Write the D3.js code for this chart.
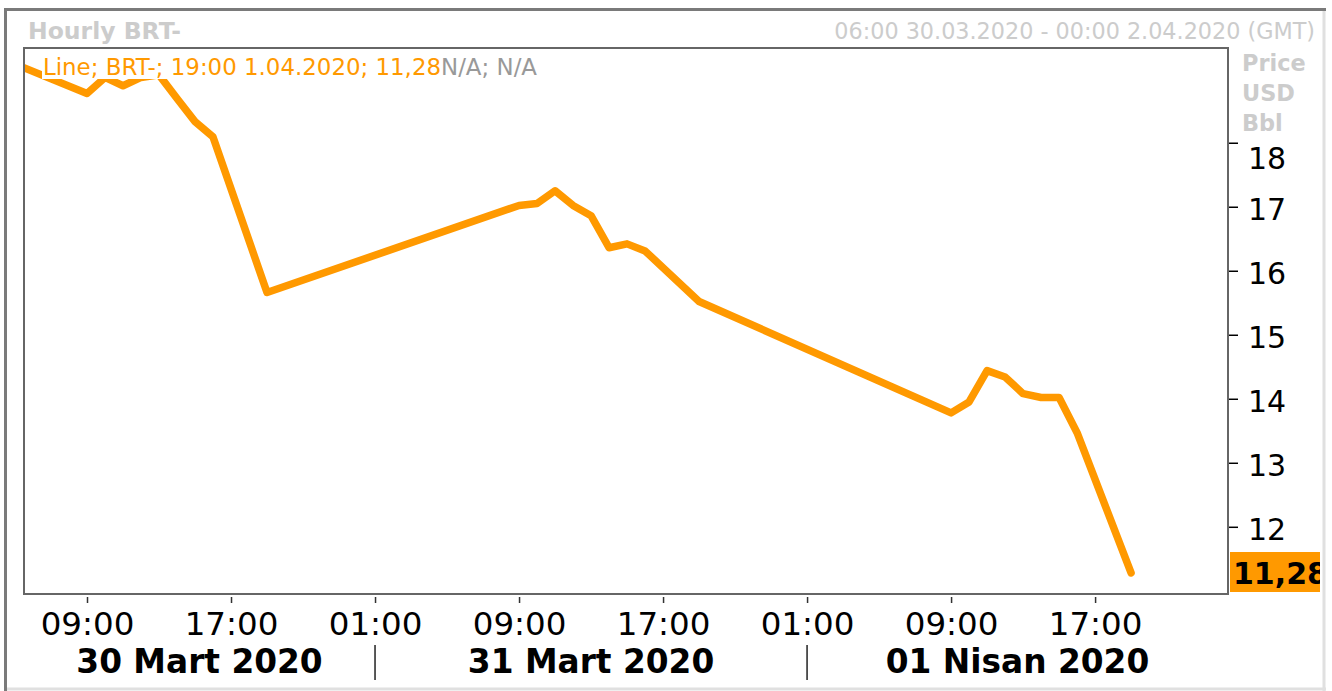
<!DOCTYPE html>
<html>
<head>
<meta charset="utf-8">
<script src="https://cdn.jsdelivr.net/npm/d3@7"></script>
<style>
  body { margin: 0; background: #fff; }
  svg { display: block; font-family: "DejaVu Sans", Verdana, sans-serif; }
</style>
</head>
<body>
<svg id="chart" width="1332" height="691"></svg>
<script>
// hourly BRT- closes (gaps overnight are simply joined by the line)
var times = [
  "2020-03-30 05:00", "2020-03-30 09:00", "2020-03-30 10:00", "2020-03-30 11:00",
  "2020-03-30 12:00", "2020-03-30 13:00", "2020-03-30 14:00", "2020-03-30 15:00",
  "2020-03-30 16:00", "2020-03-30 19:00",
  "2020-03-31 09:00", "2020-03-31 10:00", "2020-03-31 11:00", "2020-03-31 12:00",
  "2020-03-31 13:00", "2020-03-31 14:00", "2020-03-31 15:00", "2020-03-31 16:00",
  "2020-03-31 19:00",
  "2020-04-01 09:00", "2020-04-01 10:00", "2020-04-01 11:00", "2020-04-01 12:00",
  "2020-04-01 13:00", "2020-04-01 14:00", "2020-04-01 15:00", "2020-04-01 16:00",
  "2020-04-01 19:00"
];
var prices = [
  19.23, 18.77, 19.02, 18.89, 19.02, 19.06, 18.69, 18.33, 18.09, 15.66,
  17.02, 17.05, 17.25, 17.02, 16.86, 16.36, 16.42, 16.31, 15.52,
  13.78, 13.95, 14.44, 14.34, 14.08, 14.02, 14.02, 13.47, 11.28
];
var hourTicks = [
  "2020-03-30 09:00", "2020-03-30 17:00", "2020-03-31 01:00", "2020-03-31 09:00",
  "2020-03-31 17:00", "2020-04-01 01:00", "2020-04-01 09:00", "2020-04-01 17:00"
];
var dayBreaks = ["2020-03-31 01:00", "2020-04-01 01:00"];
var dayLabels = ["30 Mart 2020", "31 Mart 2020", "01 Nisan 2020"];
var priceTicks = [12, 13, 14, 15, 16, 17, 18];
var unitLabels = ["Price", "USD", "Bbl"];
var lastValue = "11,28";

var parse = d3.utcParse("%Y-%m-%d %H:%M");
var data = times.map(function(t, i) { return { t: parse(t), v: prices[i] }; });

var svg = d3.select("#chart");
var pLeft = 24, pRight = 1228, pTop = 48, pBottom = 594;

var x = d3.scaleUtc()
  .domain([parse("2020-03-30 05:30"), parse("2020-04-02 00:23")])
  .range([pLeft, pRight]);
var y = d3.scaleLinear()
  .domain([10.95, 19.48])
  .range([pBottom, pTop]);

// outer frame (sunken look)
svg.append("line").attr("x1", 4).attr("x2", 1326).attr("y1", 9.5).attr("y2", 9.5)
  .attr("stroke", "#7a7a7a").attr("stroke-width", 3);
svg.append("line").attr("x1", 5.5).attr("x2", 5.5).attr("y1", 8).attr("y2", 691)
  .attr("stroke", "#7a7a7a").attr("stroke-width", 3);
svg.append("line").attr("x1", 1324).attr("x2", 1324).attr("y1", 11).attr("y2", 691)
  .attr("stroke", "#e0e0e0").attr("stroke-width", 3);
svg.append("line").attr("x1", 7).attr("x2", 1326).attr("y1", 689).attr("y2", 689)
  .attr("stroke", "#e0e0e0").attr("stroke-width", 3);

// header
svg.append("text").attr("x", 28).attr("y", 39)
  .attr("font-size", 23.5).attr("font-weight", "bold").attr("fill", "#cccccc")
  .text("Hourly BRT-");
svg.append("text").attr("x", 1315).attr("y", 39).attr("text-anchor", "end")
  .attr("font-size", 22.3).attr("fill", "#cccccc")
  .text("06:00 30.03.2020 - 00:00 2.04.2020 (GMT)");

svg.selectAll(".unit").data(unitLabels).enter().append("text")
  .attr("class", "unit")
  .attr("x", 1242).attr("y", function(d, i) { return 71 + i * 30; })
  .attr("font-size", 22.4).attr("font-weight", "bold").attr("fill", "#cccccc")
  .text(function(d) { return d; });

// plot area
svg.append("clipPath").attr("id", "plotclip")
  .append("rect").attr("x", pLeft).attr("y", pTop)
  .attr("width", pRight - pLeft).attr("height", pBottom - pTop);

var line = d3.line()
  .x(function(d) { return x(d.t); })
  .y(function(d) { return y(d.v); });

svg.append("path").datum(data)
  .attr("clip-path", "url(#plotclip)")
  .attr("fill", "none")
  .attr("stroke", "#ff9900")
  .attr("stroke-width", 7.5)
  .attr("stroke-linejoin", "round")
  .attr("stroke-linecap", "round")
  .attr("d", line);

// legend
var legend = svg.append("g");
var legBg = legend.append("rect").attr("fill", "#fff");
var legText = legend.append("text").attr("x", 43).attr("y", 75).attr("font-size", 22.9);
legText.append("tspan").attr("fill", "#ff9900").text("Line; BRT-; 19:00 1.04.2020; " + lastValue);
legText.append("tspan").attr("fill", "#999999").text("N/A; N/A");
var bb = legText.node().getBBox();
legBg.attr("x", 42).attr("y", 55).attr("width", bb.width + 2).attr("height", 24);

svg.append("rect").attr("x", pLeft).attr("y", pTop)
  .attr("width", pRight - pLeft).attr("height", pBottom - pTop)
  .attr("fill", "none").attr("stroke", "#666").attr("stroke-width", 2);

// right price axis
var yAxis = svg.append("g")
  .attr("transform", "translate(" + (pRight + 1) + ",0)")
  .call(d3.axisRight(y).tickValues(priceTicks).tickSize(9).tickPadding(10)
    .tickFormat(d3.format("d")));
yAxis.select(".domain").remove();
yAxis.selectAll(".tick line").attr("stroke", "#000").attr("stroke-width", 1.5);
yAxis.selectAll(".tick text")
  .attr("font-family", "DejaVu Sans, Verdana, sans-serif")
  .attr("font-size", 30).attr("fill", "#000")
  .attr("dy", function(d) { return d === 18 ? "0.85em" : "0.42em"; });

// last value marker
svg.append("clipPath").attr("id", "valclip")
  .append("rect").attr("x", 1230).attr("y", 552).attr("width", 90).attr("height", 40);
var val = svg.append("g").attr("clip-path", "url(#valclip)");
val.append("rect").attr("x", 1230).attr("y", 552).attr("width", 90).attr("height", 40)
  .attr("fill", "#ff9900");
val.append("text").attr("x", 1233).attr("y", y(prices[prices.length - 1]) + 11)
  .attr("font-size", 30).attr("font-weight", "bold").attr("fill", "#000")
  .text(lastValue);

// time axis
var xAxis = svg.append("g")
  .attr("transform", "translate(0," + 597 + ")")
  .call(d3.axisBottom(x).tickValues(hourTicks.map(parse)).tickSize(6).tickPadding(9)
    .tickFormat(d3.utcFormat("%H:%M")));
xAxis.select(".domain").remove();
xAxis.selectAll(".tick line").attr("stroke", "#333").attr("stroke-width", 1.5);
xAxis.selectAll(".tick text")
  .attr("font-family", "DejaVu Sans, Verdana, sans-serif")
  .attr("font-size", 32.5).attr("fill", "#000");

var edges = [pLeft].concat(dayBreaks.map(function(d) { return x(parse(d)); })).concat([pRight]);
svg.selectAll(".daysep").data(dayBreaks).enter().append("line")
  .attr("class", "daysep")
  .attr("x1", function(d) { return x(parse(d)); })
  .attr("x2", function(d) { return x(parse(d)); })
  .attr("y1", 645).attr("y2", 680)
  .attr("stroke", "#222").attr("stroke-width", 1.5);

svg.selectAll(".day").data(dayLabels).enter().append("text")
  .attr("class", "day")
  .attr("x", function(d, i) { return (edges[i] + edges[i + 1]) / 2; })
  .attr("y", 673)
  .attr("text-anchor", "middle")
  .attr("font-size", 32.8).attr("font-weight", "bold").attr("fill", "#000")
  .text(function(d) { return d; });
</script>
</body>
</html>
